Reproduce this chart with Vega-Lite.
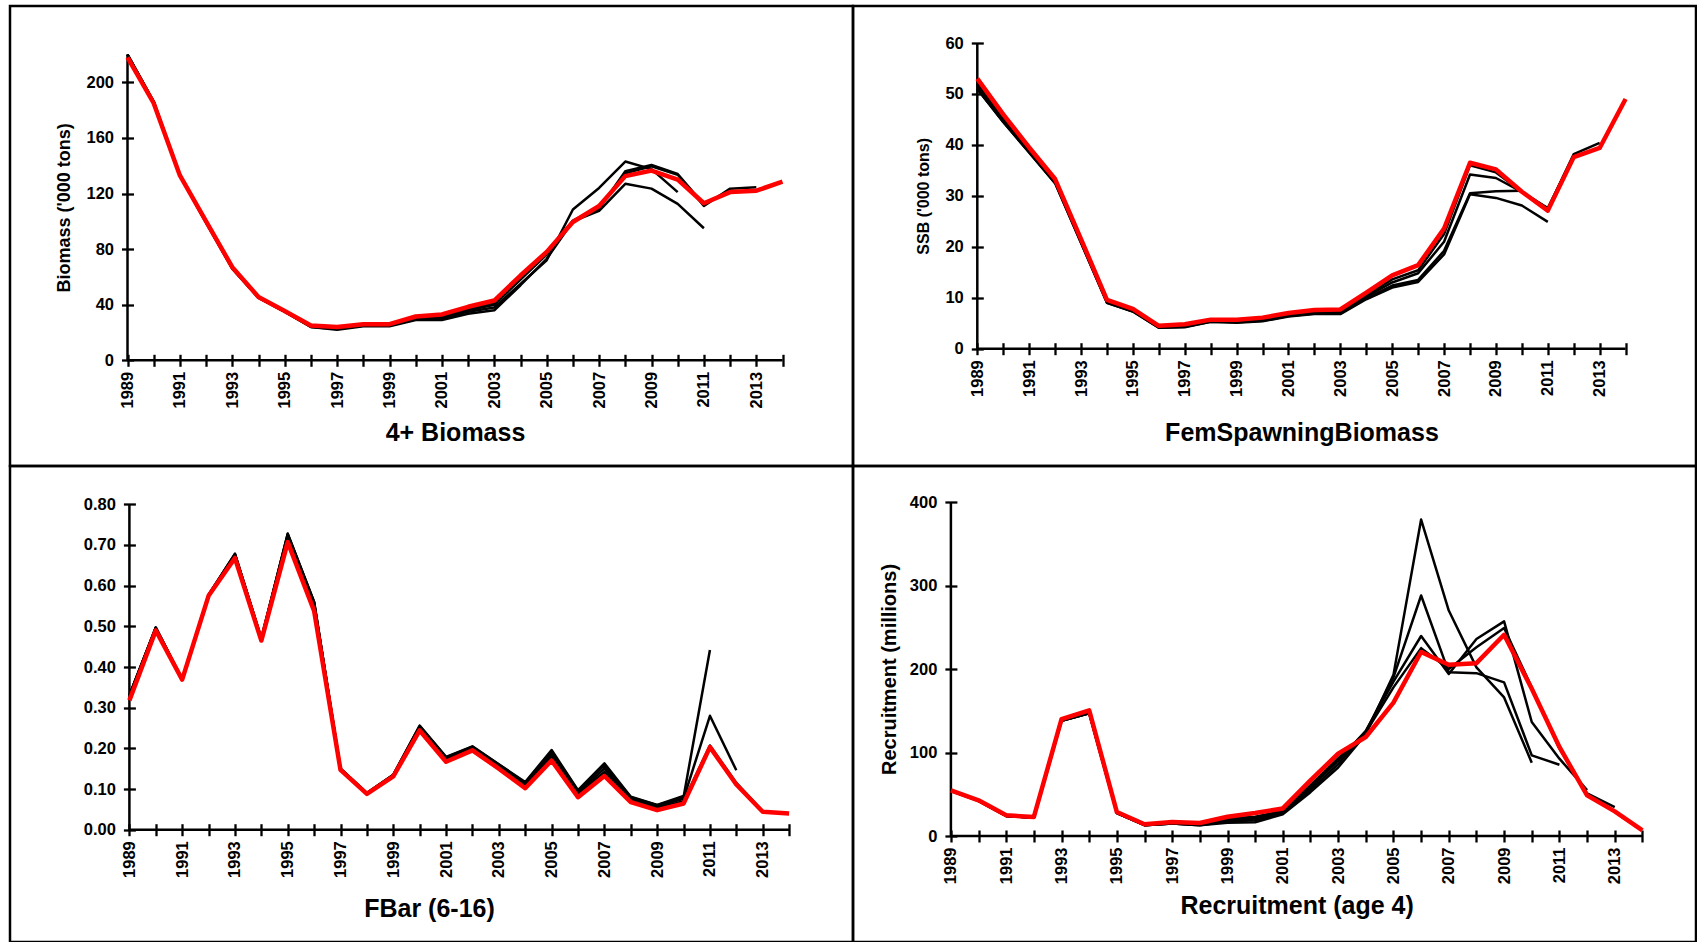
{
  "$schema": "https://vega.github.io/schema/vega-lite/v6.json",
  "background": "white",
  "padding": {"left": 8, "top": 4, "right": 3, "bottom": 2},
  "columns": 2,
  "spacing": 0,
  "bounds": "flush",
  "config": {
    "font": "Liberation Sans",
    "view": {"stroke": "black", "strokeWidth": 2.5},
    "axis": {
      "domain": false, "grid": false, "ticks": true,
      "tickColor": "black", "tickWidth": 2.3, "tickSize": 12,
      "labelFont": "Liberation Sans", "labelFontWeight": "bold", "labelFontSize": 16.5, "labelColor": "black",
      "labelOverlap": false, "labelFlush": false, "labelBound": false,
      "titleFont": "Liberation Sans", "titleFontWeight": "bold", "titleColor": "black"
    },
    "axisX": {
      "values": [1989,1990,1991,1992,1993,1994,1995,1996,1997,1998,1999,2000,2001,2002,2003,2004,2005,2006,2007,2008,2009,2010,2011,2012,2013,2014],
      "format": "d", "labelAngle": -90, "labelPadding": 5,
      "labelExpr": "datum.value % 2 === 1 ? datum.label : ''",
      "titleFontSize": 25
    },
    "axisY": {"labelPadding": 8}
  },
  "datasets": {
    "biomass": [
      {"year":1989,"run":"2014","value":218},{"year":1990,"run":"2014","value":185},{"year":1991,"run":"2014","value":133},{"year":1992,"run":"2014","value":100},{"year":1993,"run":"2014","value":67},{"year":1994,"run":"2014","value":45.5},{"year":1995,"run":"2014","value":35.5},{"year":1996,"run":"2014","value":25},{"year":1997,"run":"2014","value":24},{"year":1998,"run":"2014","value":26},{"year":1999,"run":"2014","value":26},{"year":2000,"run":"2014","value":31.5},{"year":2001,"run":"2014","value":33},{"year":2002,"run":"2014","value":38.5},{"year":2003,"run":"2014","value":43},{"year":2004,"run":"2014","value":61},{"year":2005,"run":"2014","value":78},{"year":2006,"run":"2014","value":99.5},{"year":2007,"run":"2014","value":111},{"year":2008,"run":"2014","value":132.5},{"year":2009,"run":"2014","value":136.5},{"year":2010,"run":"2014","value":130},{"year":2011,"run":"2014","value":113},{"year":2012,"run":"2014","value":121},{"year":2013,"run":"2014","value":122},{"year":2014,"run":"2014","value":128.5},
      {"year":1989,"run":"2013","value":220},{"year":1990,"run":"2013","value":186},{"year":1991,"run":"2013","value":133},{"year":1992,"run":"2013","value":99.5},{"year":1993,"run":"2013","value":66.5},{"year":1994,"run":"2013","value":45},{"year":1995,"run":"2013","value":35},{"year":1996,"run":"2013","value":24.5},{"year":1997,"run":"2013","value":23},{"year":1998,"run":"2013","value":25.5},{"year":1999,"run":"2013","value":25.5},{"year":2000,"run":"2013","value":30.5},{"year":2001,"run":"2013","value":31.5},{"year":2002,"run":"2013","value":37},{"year":2003,"run":"2013","value":41.5},{"year":2004,"run":"2013","value":59},{"year":2005,"run":"2013","value":77},{"year":2006,"run":"2013","value":100.5},{"year":2007,"run":"2013","value":110},{"year":2008,"run":"2013","value":134.5},{"year":2009,"run":"2013","value":139.5},{"year":2010,"run":"2013","value":133.5},{"year":2011,"run":"2013","value":111},{"year":2012,"run":"2013","value":123.5},{"year":2013,"run":"2013","value":124.5},
      {"year":1989,"run":"2012","value":220},{"year":1990,"run":"2012","value":186},{"year":1991,"run":"2012","value":133},{"year":1992,"run":"2012","value":99.5},{"year":1993,"run":"2012","value":66.5},{"year":1994,"run":"2012","value":45},{"year":1995,"run":"2012","value":35},{"year":1996,"run":"2012","value":24.5},{"year":1997,"run":"2012","value":23},{"year":1998,"run":"2012","value":25},{"year":1999,"run":"2012","value":25},{"year":2000,"run":"2012","value":30},{"year":2001,"run":"2012","value":31},{"year":2002,"run":"2012","value":36},{"year":2003,"run":"2012","value":40},{"year":2004,"run":"2012","value":58},{"year":2005,"run":"2012","value":76},{"year":2006,"run":"2012","value":100},{"year":2007,"run":"2012","value":109},{"year":2008,"run":"2012","value":136},{"year":2009,"run":"2012","value":140.5},{"year":2010,"run":"2012","value":134},{"year":2011,"run":"2012","value":112},{"year":2012,"run":"2012","value":122.5},
      {"year":1989,"run":"2011","value":220},{"year":1990,"run":"2011","value":186},{"year":1991,"run":"2011","value":133},{"year":1992,"run":"2011","value":99},{"year":1993,"run":"2011","value":66},{"year":1994,"run":"2011","value":45},{"year":1995,"run":"2011","value":35},{"year":1996,"run":"2011","value":24},{"year":1997,"run":"2011","value":22},{"year":1998,"run":"2011","value":24.5},{"year":1999,"run":"2011","value":24.5},{"year":2000,"run":"2011","value":29},{"year":2001,"run":"2011","value":29},{"year":2002,"run":"2011","value":33.5},{"year":2003,"run":"2011","value":36},{"year":2004,"run":"2011","value":54},{"year":2005,"run":"2011","value":73},{"year":2006,"run":"2011","value":100},{"year":2007,"run":"2011","value":107.5},{"year":2008,"run":"2011","value":127},{"year":2009,"run":"2011","value":123.5},{"year":2010,"run":"2011","value":112.5},{"year":2011,"run":"2011","value":95},
      {"year":1989,"run":"2010","value":220},{"year":1990,"run":"2010","value":186},{"year":1991,"run":"2010","value":133},{"year":1992,"run":"2010","value":99},{"year":1993,"run":"2010","value":66},{"year":1994,"run":"2010","value":45},{"year":1995,"run":"2010","value":35},{"year":1996,"run":"2010","value":24},{"year":1997,"run":"2010","value":22.5},{"year":1998,"run":"2010","value":25},{"year":1999,"run":"2010","value":25},{"year":2000,"run":"2010","value":29.5},{"year":2001,"run":"2010","value":30},{"year":2002,"run":"2010","value":35},{"year":2003,"run":"2010","value":38},{"year":2004,"run":"2010","value":55},{"year":2005,"run":"2010","value":72},{"year":2006,"run":"2010","value":108.5},{"year":2007,"run":"2010","value":124},{"year":2008,"run":"2010","value":143},{"year":2009,"run":"2010","value":137.5},{"year":2010,"run":"2010","value":121}
    ],
    "ssb": [
      {"year":1989,"run":"2014","value":53},{"year":1990,"run":"2014","value":46},{"year":1991,"run":"2014","value":39.5},{"year":1992,"run":"2014","value":33.3},{"year":1993,"run":"2014","value":21.5},{"year":1994,"run":"2014","value":9.6},{"year":1995,"run":"2014","value":7.8},{"year":1996,"run":"2014","value":4.5},{"year":1997,"run":"2014","value":4.8},{"year":1998,"run":"2014","value":5.7},{"year":1999,"run":"2014","value":5.7},{"year":2000,"run":"2014","value":6.1},{"year":2001,"run":"2014","value":7},{"year":2002,"run":"2014","value":7.6},{"year":2003,"run":"2014","value":7.7},{"year":2004,"run":"2014","value":11},{"year":2005,"run":"2014","value":14.4},{"year":2006,"run":"2014","value":16.4},{"year":2007,"run":"2014","value":23.6},{"year":2008,"run":"2014","value":36.5},{"year":2009,"run":"2014","value":35.2},{"year":2010,"run":"2014","value":30.8},{"year":2011,"run":"2014","value":27.1},{"year":2012,"run":"2014","value":37.6},{"year":2013,"run":"2014","value":39.4},{"year":2014,"run":"2014","value":49},
      {"year":1989,"run":"2013","value":52},{"year":1990,"run":"2013","value":45.5},{"year":1991,"run":"2013","value":39},{"year":1992,"run":"2013","value":33},{"year":1993,"run":"2013","value":21},{"year":1994,"run":"2013","value":9.3},{"year":1995,"run":"2013","value":7.5},{"year":1996,"run":"2013","value":4.3},{"year":1997,"run":"2013","value":4.5},{"year":1998,"run":"2013","value":5.5},{"year":1999,"run":"2013","value":5.4},{"year":2000,"run":"2013","value":5.8},{"year":2001,"run":"2013","value":6.7},{"year":2002,"run":"2013","value":7.2},{"year":2003,"run":"2013","value":7.3},{"year":2004,"run":"2013","value":10.5},{"year":2005,"run":"2013","value":13.6},{"year":2006,"run":"2013","value":15.4},{"year":2007,"run":"2013","value":22.5},{"year":2008,"run":"2013","value":36},{"year":2009,"run":"2013","value":34.6},{"year":2010,"run":"2013","value":30.8},{"year":2011,"run":"2013","value":27.4},{"year":2012,"run":"2013","value":38.2},{"year":2013,"run":"2013","value":40.4},
      {"year":1989,"run":"2012","value":51.5},{"year":1990,"run":"2012","value":45},{"year":1991,"run":"2012","value":38.8},{"year":1992,"run":"2012","value":32.8},{"year":1993,"run":"2012","value":21},{"year":1994,"run":"2012","value":9.2},{"year":1995,"run":"2012","value":7.4},{"year":1996,"run":"2012","value":4.2},{"year":1997,"run":"2012","value":4.4},{"year":1998,"run":"2012","value":5.4},{"year":1999,"run":"2012","value":5.3},{"year":2000,"run":"2012","value":5.6},{"year":2001,"run":"2012","value":6.5},{"year":2002,"run":"2012","value":7},{"year":2003,"run":"2012","value":7.1},{"year":2004,"run":"2012","value":10.2},{"year":2005,"run":"2012","value":13},{"year":2006,"run":"2012","value":14.8},{"year":2007,"run":"2012","value":21},{"year":2008,"run":"2012","value":34.2},{"year":2009,"run":"2012","value":33.5},{"year":2010,"run":"2012","value":30.8},{"year":2011,"run":"2012","value":27.6},{"year":2012,"run":"2012","value":37.9},
      {"year":1989,"run":"2011","value":51},{"year":1990,"run":"2011","value":44.5},{"year":1991,"run":"2011","value":38.5},{"year":1992,"run":"2011","value":32.5},{"year":1993,"run":"2011","value":20.8},{"year":1994,"run":"2011","value":9},{"year":1995,"run":"2011","value":7.3},{"year":1996,"run":"2011","value":4.1},{"year":1997,"run":"2011","value":4.2},{"year":1998,"run":"2011","value":5.3},{"year":1999,"run":"2011","value":5.1},{"year":2000,"run":"2011","value":5.4},{"year":2001,"run":"2011","value":6.3},{"year":2002,"run":"2011","value":6.8},{"year":2003,"run":"2011","value":6.8},{"year":2004,"run":"2011","value":9.7},{"year":2005,"run":"2011","value":12},{"year":2006,"run":"2011","value":13.1},{"year":2007,"run":"2011","value":18.5},{"year":2008,"run":"2011","value":30.3},{"year":2009,"run":"2011","value":29.6},{"year":2010,"run":"2011","value":28.1},{"year":2011,"run":"2011","value":24.9},
      {"year":1989,"run":"2010","value":51},{"year":1990,"run":"2010","value":44.5},{"year":1991,"run":"2010","value":38.5},{"year":1992,"run":"2010","value":32.5},{"year":1993,"run":"2010","value":20.8},{"year":1994,"run":"2010","value":9},{"year":1995,"run":"2010","value":7.3},{"year":1996,"run":"2010","value":4.1},{"year":1997,"run":"2010","value":4.3},{"year":1998,"run":"2010","value":5.3},{"year":1999,"run":"2010","value":5.2},{"year":2000,"run":"2010","value":5.5},{"year":2001,"run":"2010","value":6.4},{"year":2002,"run":"2010","value":6.9},{"year":2003,"run":"2010","value":6.9},{"year":2004,"run":"2010","value":9.9},{"year":2005,"run":"2010","value":12.4},{"year":2006,"run":"2010","value":13.5},{"year":2007,"run":"2010","value":19.2},{"year":2008,"run":"2010","value":30.5},{"year":2009,"run":"2010","value":30.9},{"year":2010,"run":"2010","value":31}
    ],
    "fbar": [
      {"year":1989,"run":"2014","value":0.318},{"year":1990,"run":"2014","value":0.49},{"year":1991,"run":"2014","value":0.369},{"year":1992,"run":"2014","value":0.575},{"year":1993,"run":"2014","value":0.668},{"year":1994,"run":"2014","value":0.465},{"year":1995,"run":"2014","value":0.707},{"year":1996,"run":"2014","value":0.538},{"year":1997,"run":"2014","value":0.147},{"year":1998,"run":"2014","value":0.088},{"year":1999,"run":"2014","value":0.131},{"year":2000,"run":"2014","value":0.244},{"year":2001,"run":"2014","value":0.167},{"year":2002,"run":"2014","value":0.195},{"year":2003,"run":"2014","value":0.15},{"year":2004,"run":"2014","value":0.102},{"year":2005,"run":"2014","value":0.17},{"year":2006,"run":"2014","value":0.08},{"year":2007,"run":"2014","value":0.132},{"year":2008,"run":"2014","value":0.068},{"year":2009,"run":"2014","value":0.048},{"year":2010,"run":"2014","value":0.064},{"year":2011,"run":"2014","value":0.203},{"year":2012,"run":"2014","value":0.111},{"year":2013,"run":"2014","value":0.044},{"year":2014,"run":"2014","value":0.04},
      {"year":1989,"run":"2013","value":0.33},{"year":1990,"run":"2013","value":0.495},{"year":1991,"run":"2013","value":0.37},{"year":1992,"run":"2013","value":0.576},{"year":1993,"run":"2013","value":0.675},{"year":1994,"run":"2013","value":0.468},{"year":1995,"run":"2013","value":0.722},{"year":1996,"run":"2013","value":0.555},{"year":1997,"run":"2013","value":0.149},{"year":1998,"run":"2013","value":0.089},{"year":1999,"run":"2013","value":0.133},{"year":2000,"run":"2013","value":0.25},{"year":2001,"run":"2013","value":0.172},{"year":2002,"run":"2013","value":0.199},{"year":2003,"run":"2013","value":0.155},{"year":2004,"run":"2013","value":0.108},{"year":2005,"run":"2013","value":0.18},{"year":2006,"run":"2013","value":0.087},{"year":2007,"run":"2013","value":0.142},{"year":2008,"run":"2013","value":0.073},{"year":2009,"run":"2013","value":0.053},{"year":2010,"run":"2013","value":0.07},{"year":2011,"run":"2013","value":0.207},{"year":2012,"run":"2013","value":0.115},{"year":2013,"run":"2013","value":0.046},
      {"year":1989,"run":"2012","value":0.33},{"year":1990,"run":"2012","value":0.497},{"year":1991,"run":"2012","value":0.37},{"year":1992,"run":"2012","value":0.577},{"year":1993,"run":"2012","value":0.677},{"year":1994,"run":"2012","value":0.47},{"year":1995,"run":"2012","value":0.725},{"year":1996,"run":"2012","value":0.558},{"year":1997,"run":"2012","value":0.15},{"year":1998,"run":"2012","value":0.09},{"year":1999,"run":"2012","value":0.134},{"year":2000,"run":"2012","value":0.253},{"year":2001,"run":"2012","value":0.176},{"year":2002,"run":"2012","value":0.202},{"year":2003,"run":"2012","value":0.158},{"year":2004,"run":"2012","value":0.112},{"year":2005,"run":"2012","value":0.186},{"year":2006,"run":"2012","value":0.091},{"year":2007,"run":"2012","value":0.15},{"year":2008,"run":"2012","value":0.077},{"year":2009,"run":"2012","value":0.057},{"year":2010,"run":"2012","value":0.076},{"year":2011,"run":"2012","value":0.28},{"year":2012,"run":"2012","value":0.146},
      {"year":1989,"run":"2011","value":0.33},{"year":1990,"run":"2011","value":0.497},{"year":1991,"run":"2011","value":0.37},{"year":1992,"run":"2011","value":0.577},{"year":1993,"run":"2011","value":0.678},{"year":1994,"run":"2011","value":0.47},{"year":1995,"run":"2011","value":0.727},{"year":1996,"run":"2011","value":0.56},{"year":1997,"run":"2011","value":0.15},{"year":1998,"run":"2011","value":0.09},{"year":1999,"run":"2011","value":0.135},{"year":2000,"run":"2011","value":0.255},{"year":2001,"run":"2011","value":0.178},{"year":2002,"run":"2011","value":0.204},{"year":2003,"run":"2011","value":0.16},{"year":2004,"run":"2011","value":0.115},{"year":2005,"run":"2011","value":0.192},{"year":2006,"run":"2011","value":0.095},{"year":2007,"run":"2011","value":0.158},{"year":2008,"run":"2011","value":0.08},{"year":2009,"run":"2011","value":0.06},{"year":2010,"run":"2011","value":0.08},{"year":2011,"run":"2011","value":0.442},
      {"year":1989,"run":"2010","value":0.33},{"year":1990,"run":"2010","value":0.497},{"year":1991,"run":"2010","value":0.37},{"year":1992,"run":"2010","value":0.577},{"year":1993,"run":"2010","value":0.678},{"year":1994,"run":"2010","value":0.47},{"year":1995,"run":"2010","value":0.728},{"year":1996,"run":"2010","value":0.56},{"year":1997,"run":"2010","value":0.15},{"year":1998,"run":"2010","value":0.09},{"year":1999,"run":"2010","value":0.135},{"year":2000,"run":"2010","value":0.256},{"year":2001,"run":"2010","value":0.179},{"year":2002,"run":"2010","value":0.205},{"year":2003,"run":"2010","value":0.161},{"year":2004,"run":"2010","value":0.117},{"year":2005,"run":"2010","value":0.196},{"year":2006,"run":"2010","value":0.097},{"year":2007,"run":"2010","value":0.163},{"year":2008,"run":"2010","value":0.081},{"year":2009,"run":"2010","value":0.061},{"year":2010,"run":"2010","value":0.083}
    ],
    "recruitment": [
      {"year":1989,"run":"2014","value":54.7},{"year":1990,"run":"2014","value":42.7},{"year":1991,"run":"2014","value":24.8},{"year":1992,"run":"2014","value":22.8},{"year":1993,"run":"2014","value":140},{"year":1994,"run":"2014","value":150.5},{"year":1995,"run":"2014","value":28.7},{"year":1996,"run":"2014","value":14},{"year":1997,"run":"2014","value":16.8},{"year":1998,"run":"2014","value":15.6},{"year":1999,"run":"2014","value":23},{"year":2000,"run":"2014","value":27.5},{"year":2001,"run":"2014","value":33},{"year":2002,"run":"2014","value":66.7},{"year":2003,"run":"2014","value":98.6},{"year":2004,"run":"2014","value":118.6},{"year":2005,"run":"2014","value":159.7},{"year":2006,"run":"2014","value":220.4},{"year":2007,"run":"2014","value":205},{"year":2008,"run":"2014","value":207},{"year":2009,"run":"2014","value":241},{"year":2010,"run":"2014","value":176.4},{"year":2011,"run":"2014","value":106.6},{"year":2012,"run":"2014","value":48.7},{"year":2013,"run":"2014","value":29.5},{"year":2014,"run":"2014","value":6.8},
      {"year":1989,"run":"2013","value":54},{"year":1990,"run":"2013","value":42},{"year":1991,"run":"2013","value":24},{"year":1992,"run":"2013","value":22},{"year":1993,"run":"2013","value":139},{"year":1994,"run":"2013","value":148},{"year":1995,"run":"2013","value":28},{"year":1996,"run":"2013","value":13.5},{"year":1997,"run":"2013","value":16},{"year":1998,"run":"2013","value":14.5},{"year":1999,"run":"2013","value":21},{"year":2000,"run":"2013","value":23},{"year":2001,"run":"2013","value":30},{"year":2002,"run":"2013","value":61},{"year":2003,"run":"2013","value":93},{"year":2004,"run":"2013","value":124},{"year":2005,"run":"2013","value":178},{"year":2006,"run":"2013","value":225},{"year":2007,"run":"2013","value":200},{"year":2008,"run":"2013","value":226},{"year":2009,"run":"2013","value":249},{"year":2010,"run":"2013","value":178},{"year":2011,"run":"2013","value":104.6},{"year":2012,"run":"2013","value":51},{"year":2013,"run":"2013","value":34.7},
      {"year":1989,"run":"2012","value":54},{"year":1990,"run":"2012","value":42},{"year":1991,"run":"2012","value":24},{"year":1992,"run":"2012","value":22},{"year":1993,"run":"2012","value":138},{"year":1994,"run":"2012","value":147},{"year":1995,"run":"2012","value":27.5},{"year":1996,"run":"2012","value":13},{"year":1997,"run":"2012","value":15},{"year":1998,"run":"2012","value":13.5},{"year":1999,"run":"2012","value":19},{"year":2000,"run":"2012","value":21},{"year":2001,"run":"2012","value":28},{"year":2002,"run":"2012","value":58},{"year":2003,"run":"2012","value":90},{"year":2004,"run":"2012","value":126},{"year":2005,"run":"2012","value":185},{"year":2006,"run":"2012","value":239.5},{"year":2007,"run":"2012","value":194},{"year":2008,"run":"2012","value":236},{"year":2009,"run":"2012","value":257},{"year":2010,"run":"2012","value":136.5},{"year":2011,"run":"2012","value":92.6},{"year":2012,"run":"2012","value":55},
      {"year":1989,"run":"2011","value":54},{"year":1990,"run":"2011","value":42},{"year":1991,"run":"2011","value":24},{"year":1992,"run":"2011","value":22},{"year":1993,"run":"2011","value":138},{"year":1994,"run":"2011","value":147},{"year":1995,"run":"2011","value":27.5},{"year":1996,"run":"2011","value":13},{"year":1997,"run":"2011","value":15},{"year":1998,"run":"2011","value":13},{"year":1999,"run":"2011","value":17.5},{"year":2000,"run":"2011","value":19},{"year":2001,"run":"2011","value":27},{"year":2002,"run":"2011","value":55},{"year":2003,"run":"2011","value":86},{"year":2004,"run":"2011","value":125},{"year":2005,"run":"2011","value":190},{"year":2006,"run":"2011","value":288},{"year":2007,"run":"2011","value":196},{"year":2008,"run":"2011","value":195},{"year":2009,"run":"2011","value":184},{"year":2010,"run":"2011","value":96.6},{"year":2011,"run":"2011","value":85.4},
      {"year":1989,"run":"2010","value":54},{"year":1990,"run":"2010","value":42},{"year":1991,"run":"2010","value":24},{"year":1992,"run":"2010","value":22},{"year":1993,"run":"2010","value":138},{"year":1994,"run":"2010","value":147},{"year":1995,"run":"2010","value":27.5},{"year":1996,"run":"2010","value":13},{"year":1997,"run":"2010","value":15},{"year":1998,"run":"2010","value":13},{"year":1999,"run":"2010","value":16},{"year":2000,"run":"2010","value":16.5},{"year":2001,"run":"2010","value":26},{"year":2002,"run":"2010","value":52.5},{"year":2003,"run":"2010","value":82},{"year":2004,"run":"2010","value":122},{"year":2005,"run":"2010","value":193},{"year":2006,"run":"2010","value":379},{"year":2007,"run":"2010","value":270},{"year":2008,"run":"2010","value":202},{"year":2009,"run":"2010","value":166},{"year":2010,"run":"2010","value":87.8}
    ]
  },
  "concat": [
    {
      "width": 843, "height": 460,
      "layer": [
        {"data": {"values": [{}]}, "mark": {"type": "rule", "color": "black", "strokeWidth": 2.5},
         "encoding": {"x": {"datum": 1989, "type": "quantitative", "title": "4+ Biomass"}, "x2": {"datum": 2014}, "y": {"datum": 0, "type": "quantitative", "title": "Biomass ('000 tons)"}}},
        {"data": {"values": [{}]}, "mark": {"type": "rule", "color": "black", "strokeWidth": 2.5},
         "encoding": {"x": {"datum": 1989, "type": "quantitative", "title": "4+ Biomass"}, "y": {"datum": 0, "type": "quantitative", "title": "Biomass ('000 tons)"}, "y2": {"datum": 220}}},
        {"data": {"name": "biomass"}, "transform": [{"filter": "datum.run !== '2014'"}],
         "mark": {"type": "line", "color": "black", "strokeWidth": 2.5, "strokeJoin": "round"},
         "encoding": {
           "x": {"field": "year", "type": "quantitative", "title": "4+ Biomass",
                 "scale": {"domain": [1989, 2014], "range": [117.5, 772.5], "nice": false, "zero": false},
                 "axis": {"offset": -111.7, "titlePadding": 12}},
           "y": {"field": "value", "type": "quantitative", "title": "Biomass ('000 tons)",
                 "scale": {"domain": [0, 220], "range": [354.3, 48.5], "nice": false},
                 "axis": {"offset": -123.5, "values": [0, 40, 80, 120, 160, 200], "format": "d", "titleFontSize": 18, "titlePadding": 12}},
           "detail": {"field": "run"}}},
        {"data": {"name": "biomass"}, "transform": [{"filter": "datum.run === '2014'"}],
         "mark": {"type": "line", "color": "#ff0000", "strokeWidth": 4.5, "strokeJoin": "round"},
         "encoding": {"x": {"field": "year", "type": "quantitative", "title": "4+ Biomass"}, "y": {"field": "value", "type": "quantitative", "title": "Biomass ('000 tons)"}}}
      ]
    },
    {
      "width": 843, "height": 460,
      "layer": [
        {"data": {"values": [{}]}, "mark": {"type": "rule", "color": "black", "strokeWidth": 2.5},
         "encoding": {"x": {"datum": 1989, "type": "quantitative", "title": "FemSpawningBiomass"}, "x2": {"datum": 2014}, "y": {"datum": 0, "type": "quantitative", "title": "SSB ('000 tons)"}}},
        {"data": {"values": [{}]}, "mark": {"type": "rule", "color": "black", "strokeWidth": 2.5},
         "encoding": {"x": {"datum": 1989, "type": "quantitative", "title": "FemSpawningBiomass"}, "y": {"datum": 0, "type": "quantitative", "title": "SSB ('000 tons)"}, "y2": {"datum": 60}}},
        {"data": {"name": "ssb"}, "transform": [{"filter": "datum.run !== '2014'"}],
         "mark": {"type": "line", "color": "black", "strokeWidth": 2.5, "strokeJoin": "round"},
         "encoding": {
           "x": {"field": "year", "type": "quantitative", "title": "FemSpawningBiomass",
                 "scale": {"domain": [1989, 2014], "range": [124.3, 772.6], "nice": false, "zero": false},
                 "axis": {"offset": -123.3, "titlePadding": 24}},
           "y": {"field": "value", "type": "quantitative", "title": "SSB ('000 tons)",
                 "scale": {"domain": [0, 60], "range": [342.7, 37], "nice": false},
                 "axis": {"offset": -130.3, "values": [0, 10, 20, 30, 40, 50, 60], "format": "d", "titleFontSize": 16, "titlePadding": 13}},
           "detail": {"field": "run"}}},
        {"data": {"name": "ssb"}, "transform": [{"filter": "datum.run === '2014'"}],
         "mark": {"type": "line", "color": "#ff0000", "strokeWidth": 4.5, "strokeJoin": "round"},
         "encoding": {"x": {"field": "year", "type": "quantitative", "title": "FemSpawningBiomass"}, "y": {"field": "value", "type": "quantitative", "title": "SSB ('000 tons)"}}}
      ]
    },
    {
      "width": 843, "height": 476,
      "layer": [
        {"data": {"values": [{}]}, "mark": {"type": "rule", "color": "black", "strokeWidth": 2.5},
         "encoding": {"x": {"datum": 1989, "type": "quantitative", "title": "FBar (6-16)"}, "x2": {"datum": 2014}, "y": {"datum": 0, "type": "quantitative", "title": null}}},
        {"data": {"values": [{}]}, "mark": {"type": "rule", "color": "black", "strokeWidth": 2.5},
         "encoding": {"x": {"datum": 1989, "type": "quantitative", "title": "FBar (6-16)"}, "y": {"datum": 0, "type": "quantitative", "title": null}, "y2": {"datum": 0.8}}},
        {"data": {"name": "fbar"}, "transform": [{"filter": "datum.run !== '2014'"}],
         "mark": {"type": "line", "color": "black", "strokeWidth": 2.5, "strokeJoin": "round"},
         "encoding": {
           "x": {"field": "year", "type": "quantitative", "title": "FBar (6-16)",
                 "scale": {"domain": [1989, 2014], "range": [119.4, 779.1], "nice": false, "zero": false},
                 "axis": {"offset": -118.3, "titlePadding": 19, "titleX": 419}},
           "y": {"field": "value", "type": "quantitative", "title": null,
                 "scale": {"domain": [0, 0.8], "range": [363.7, 38.3], "nice": false},
                 "axis": {"offset": -125.4, "values": [0, 0.1, 0.2, 0.3, 0.4, 0.5, 0.6, 0.7, 0.8], "format": ".2f"}},
           "detail": {"field": "run"}}},
        {"data": {"name": "fbar"}, "transform": [{"filter": "datum.run === '2014'"}],
         "mark": {"type": "line", "color": "#ff0000", "strokeWidth": 4.5, "strokeJoin": "round"},
         "encoding": {"x": {"field": "year", "type": "quantitative", "title": "FBar (6-16)"}, "y": {"field": "value", "type": "quantitative", "title": null}}}
      ]
    },
    {
      "width": 843, "height": 476,
      "layer": [
        {"data": {"values": [{}]}, "mark": {"type": "rule", "color": "black", "strokeWidth": 2.5},
         "encoding": {"x": {"datum": 1989, "type": "quantitative", "title": "Recruitment (age 4)"}, "x2": {"datum": 2014}, "y": {"datum": 0, "type": "quantitative", "title": "Recruitment (millions)"}}},
        {"data": {"values": [{}]}, "mark": {"type": "rule", "color": "black", "strokeWidth": 2.5},
         "encoding": {"x": {"datum": 1989, "type": "quantitative", "title": "Recruitment (age 4)"}, "y": {"datum": 0, "type": "quantitative", "title": "Recruitment (millions)"}, "y2": {"datum": 400}}},
        {"data": {"name": "recruitment"}, "transform": [{"filter": "datum.run !== '2014'"}],
         "mark": {"type": "line", "color": "black", "strokeWidth": 2.5, "strokeJoin": "round"},
         "encoding": {
           "x": {"field": "year", "type": "quantitative", "title": "Recruitment (age 4)",
                 "scale": {"domain": [1989, 2014], "range": [97.9, 789.4], "nice": false, "zero": false},
                 "axis": {"offset": -112, "titlePadding": 10}},
           "y": {"field": "value", "type": "quantitative", "title": "Recruitment (millions)",
                 "scale": {"domain": [0, 400], "range": [370, 36], "nice": false},
                 "axis": {"offset": -103.9, "values": [0, 100, 200, 300, 400], "format": "d", "titleFontSize": 20, "titlePadding": 10}},
           "detail": {"field": "run"}}},
        {"data": {"name": "recruitment"}, "transform": [{"filter": "datum.run === '2014'"}],
         "mark": {"type": "line", "color": "#ff0000", "strokeWidth": 4.5, "strokeJoin": "round"},
         "encoding": {"x": {"field": "year", "type": "quantitative", "title": "Recruitment (age 4)"}, "y": {"field": "value", "type": "quantitative", "title": "Recruitment (millions)"}}}
      ]
    }
  ]
}
